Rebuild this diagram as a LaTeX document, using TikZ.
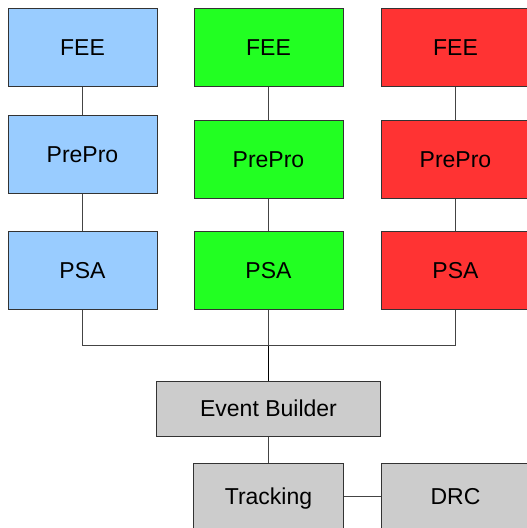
\documentclass[tikz,border=0pt]{standalone}
\usepackage{fontspec}
\setmainfont{Liberation Sans}
\definecolor{cblue}{HTML}{99CCFF}
\definecolor{cgreen}{HTML}{22FF22}
\definecolor{cred}{HTML}{FF3333}
\definecolor{cgray}{HTML}{CCCCCC}
\definecolor{cedge}{HTML}{333333}
\definecolor{cline}{HTML}{444444}
\begin{document}
\begin{tikzpicture}[x=1pt,y=-1pt,
  box/.style={draw=cedge,line width=1pt,rectangle,inner sep=0pt,
    text height=16.5pt,text depth=0pt,
    minimum width=149pt,minimum height=78pt,font=\fontsize{23}{27}\selectfont},
  link/.style={draw=cline,line width=0.9pt}]
\useasboundingbox (0,0) rectangle (527,528);
\clip (0,0) rectangle (527,528);
% blue column
\node[box,fill=cblue] (bfee) at (82.5,47) {FEE};
\node[box,fill=cblue] (bpre) at (82.5,154) {PrePro};
\node[box,fill=cblue] (bpsa) at (82.5,270.5) {PSA};
% green column
\node[box,fill=cgreen] (gfee) at (268.5,47) {FEE};
\node[box,fill=cgreen] (gpre) at (268.5,159) {PrePro};
\node[box,fill=cgreen] (gpsa) at (268.5,270.5) {PSA};
% red column
\node[box,fill=cred] (rfee) at (455.5,47) {FEE};
\node[box,fill=cred] (rpre) at (455.5,159) {PrePro};
\node[box,fill=cred] (rpsa) at (455.5,270.5) {PSA};
% lower part
\node[box,fill=cgray,minimum width=224pt,minimum height=55pt] (eb) at (268.5,408.5) {Event Builder};
\node[box,fill=cgray,minimum width=150pt,minimum height=66pt] (trk) at (268.5,496) {Tracking};
\node[box,fill=cgray,minimum width=149pt,minimum height=66pt] (drc) at (455.5,496) {DRC};
\coordinate (jn) at (268.5,345.5);
% connectors
\draw[link] (bfee) -- (bpre);
\draw[link] (bpre) -- (bpsa);
\draw[link] (gfee) -- (gpre);
\draw[link] (gpre) -- (gpsa);
\draw[link] (rfee) -- (rpre);
\draw[link] (rpre) -- (rpsa);
\draw[link] (bpsa.south) |- (jn) -| (rpsa.south);
\draw[link] (gpsa.south) -- (jn);
\draw[draw=black,line width=1.1pt] (jn) -- (eb.north);
\draw[link] (eb) -- (trk);
\draw[link] (trk) -- (drc);
\end{tikzpicture}
\end{document}
